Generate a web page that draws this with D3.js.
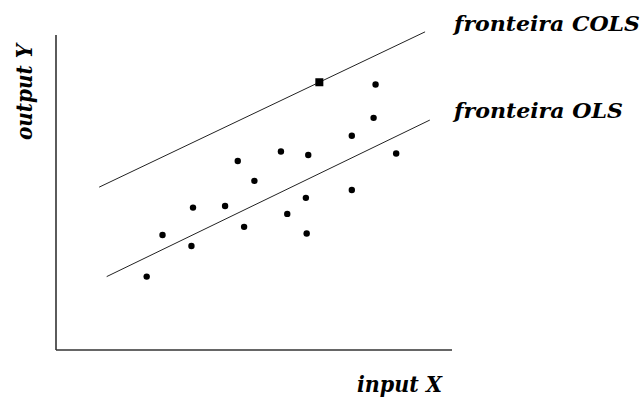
<!DOCTYPE html>
<html>
<head>
<meta charset="utf-8">
<script src="https://cdn.jsdelivr.net/npm/d3@7"></script>
<style>
  body { margin: 0; background: #fff; }
  .lbl { font-family: "DejaVu Serif", serif; font-weight: bold; font-style: italic; fill: #000; }
</style>
</head>
<body>
<div id="chart"></div>
<script>
var svgWidth = 643;
var svgHeight = 400;

// observations (input X, output Y)
var pointX = [22.9, 26.9, 34.2, 34.6, 42.7, 47.5, 45.9, 50.1, 56.8, 58.4, 63.3, 63.1, 63.7, 74.7, 74.7, 80.2, 80.7, 85.9];
var pointY = [23.3, 36.5, 33.0, 45.2, 45.7, 39.1, 60.0, 53.7, 63.0, 43.2, 37.0, 48.3, 61.9, 68.0, 50.8, 73.7, 84.3, 62.4];

// the most efficient unit, on the COLS frontier
var bestX = [66.5];
var bestY = [85.0];

// frontier segments: start and end
var olsX = [12.8, 94.4];
var olsY = [23.3, 73.0];
var colsX = [10.9, 93.2];
var colsY = [51.7, 101.0];

var labels = ["fronteira COLS", "fronteira OLS", "input X", "output Y"];

var svg = d3.select("#chart")
  .append("svg")
  .attr("width", svgWidth)
  .attr("height", svgHeight);

var x = d3.scaleLinear().domain([0, 100]).range([56, 452]);
var y = d3.scaleLinear().domain([0, 100]).range([350, 35]);

// axes (plain lines, no ticks)
svg.append("line")
  .attr("x1", x(0)).attr("y1", y(100))
  .attr("x2", x(0)).attr("y2", y(0))
  .attr("stroke", "#333").attr("stroke-width", 1.6);
svg.append("line")
  .attr("x1", x(0)).attr("y1", y(0))
  .attr("x2", x(100)).attr("y2", y(0))
  .attr("stroke", "#333").attr("stroke-width", 1.6);

var line = d3.line().x(d => x(d[0])).y(d => y(d[1]));

svg.append("path")
  .datum(d3.zip(colsX, colsY))
  .attr("d", line)
  .attr("fill", "none")
  .attr("stroke", "#222")
  .attr("stroke-width", 1);

svg.append("path")
  .datum(d3.zip(olsX, olsY))
  .attr("d", line)
  .attr("fill", "none")
  .attr("stroke", "#222")
  .attr("stroke-width", 1);

svg.selectAll("circle.obs")
  .data(d3.zip(pointX, pointY))
  .enter()
  .append("circle")
  .attr("class", "obs")
  .attr("cx", d => x(d[0]))
  .attr("cy", d => y(d[1]))
  .attr("r", 3.2)
  .attr("fill", "#000");

svg.selectAll("rect.best")
  .data(d3.zip(bestX, bestY))
  .enter()
  .append("rect")
  .attr("class", "best")
  .attr("x", d => x(d[0]) - 4)
  .attr("y", d => y(d[1]) - 4)
  .attr("width", 8)
  .attr("height", 8)
  .attr("fill", "#000");

// labels
svg.append("text").attr("class", "lbl")
  .attr("x", 454).attr("y", 31)
  .style("font-size", "21px")
  .attr("textLength", 186).attr("lengthAdjust", "spacingAndGlyphs")
  .text(labels[0]);

svg.append("text").attr("class", "lbl")
  .attr("x", 454).attr("y", 118)
  .style("font-size", "21px")
  .attr("textLength", 169).attr("lengthAdjust", "spacingAndGlyphs")
  .text(labels[1]);

svg.append("text").attr("class", "lbl")
  .attr("x", 357).attr("y", 392)
  .style("font-size", "23px")
  .attr("textLength", 85).attr("lengthAdjust", "spacingAndGlyphs")
  .text(labels[2]);

svg.append("text").attr("class", "lbl")
  .attr("transform", "translate(32, 140) rotate(-90)")
  .style("font-size", "22px")
  .attr("textLength", 96).attr("lengthAdjust", "spacingAndGlyphs")
  .text(labels[3]);
</script>
</body>
</html>
